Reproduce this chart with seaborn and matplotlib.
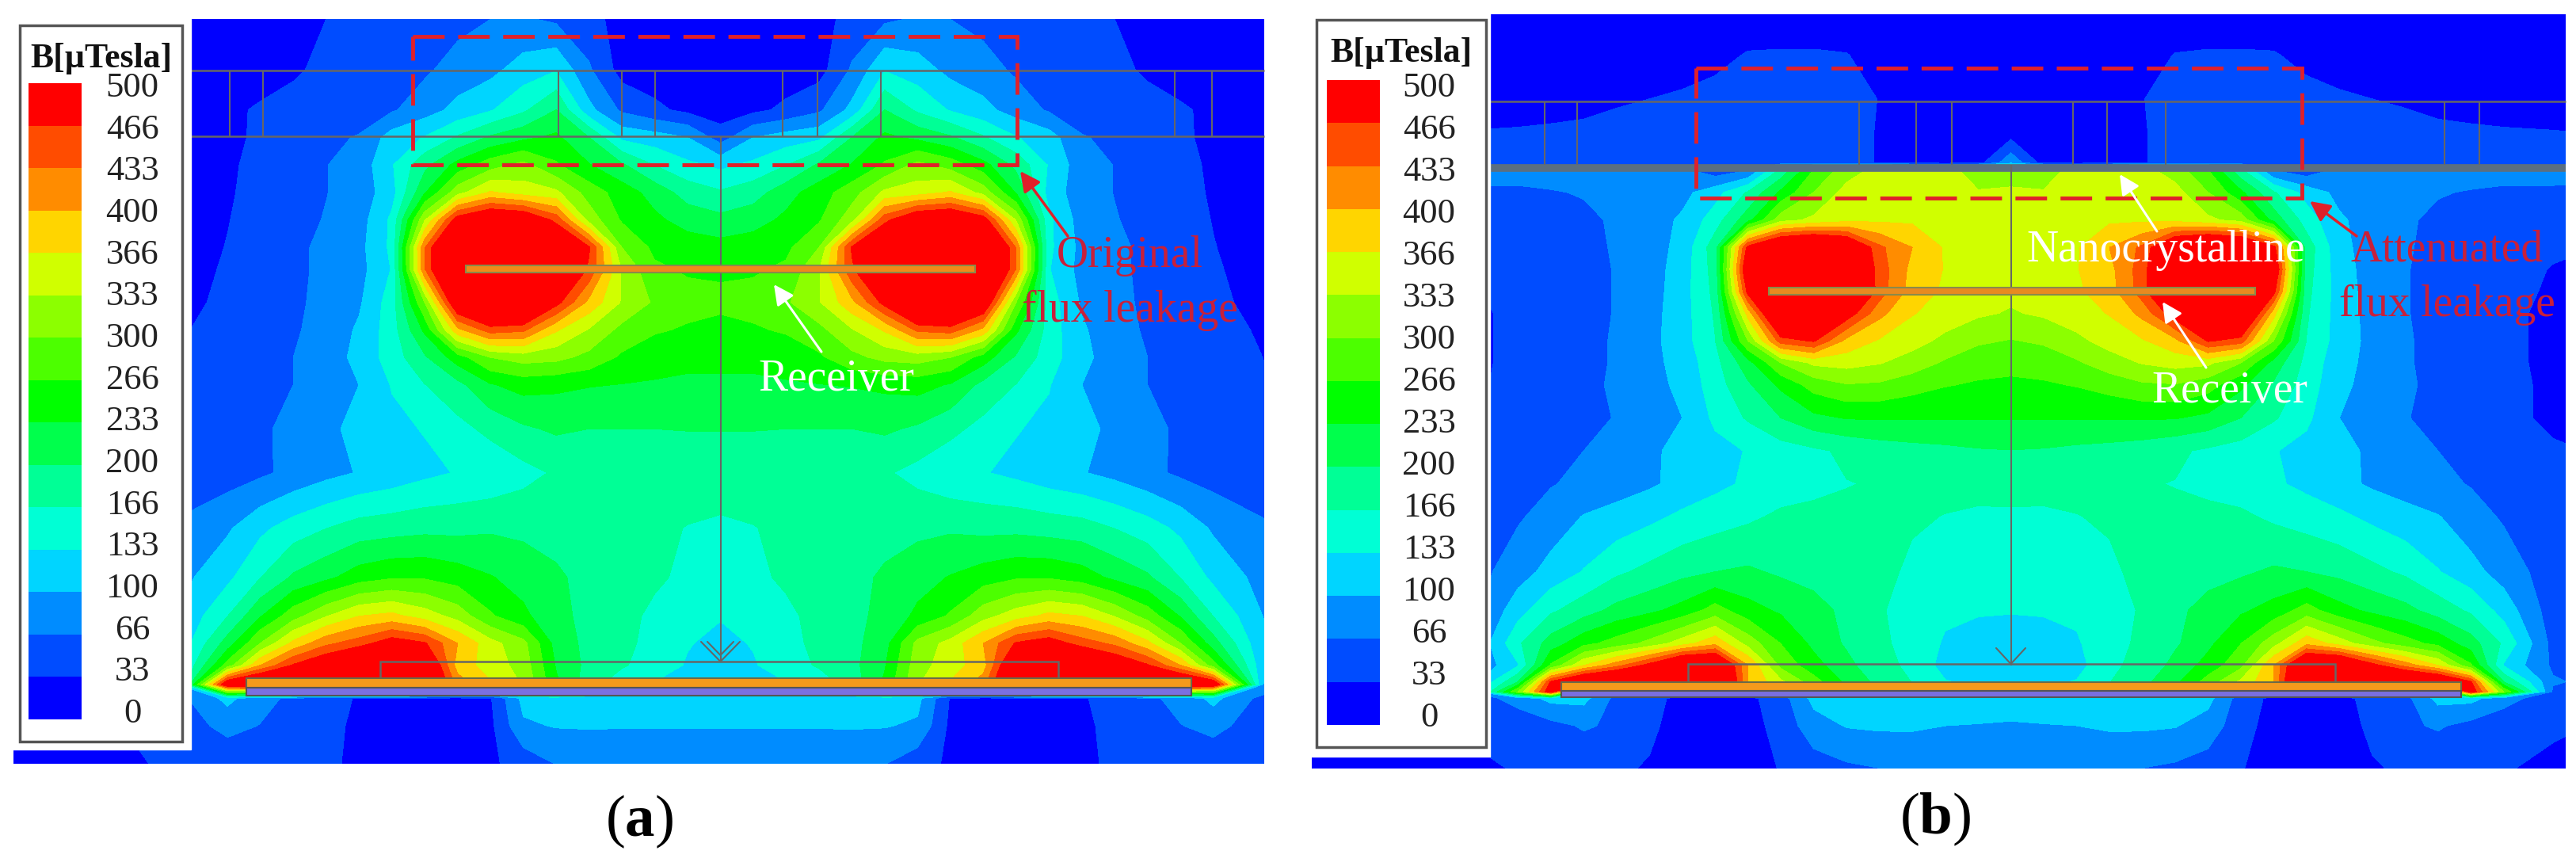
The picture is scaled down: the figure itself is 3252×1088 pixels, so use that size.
# Magnetic flux density maps, (a) original and (b) with nanocrystalline shield
import numpy as np
import matplotlib.pyplot as plt
from matplotlib.colors import ListedColormap, BoundaryNorm
from matplotlib.patches import Rectangle
import seaborn as sns

sns.set_theme(style="white")
plt.rcParams["font.family"] = ["Liberation Serif", "DejaVu Serif"]
plt.rcParams["mathtext.fontset"] = "custom"
plt.rcParams["mathtext.bf"] = "Liberation Serif:bold"

# legend
tick_labels = [500, 466, 433, 400, 366, 333, 300, 266, 233, 200, 166, 133, 100, 66, 33, 0]
band_colors = ["#0000ff", "#004cff", "#008cff", "#00d5ff", "#00ffd5", "#00ff96", "#00ff4c", "#00ff00",
               "#4cff00", "#8cff00", "#d0ff00", "#ffd500", "#ff8c00", "#ff4c00", "#ff0000"]
levels = [0, 33, 66, 100, 133, 166, 200, 233, 266, 300, 333, 366, 400, 433, 466, 5000]

# distance from the centre line (columns of both tables)
dist = [0, 40, 80, 120, 160, 200, 240, 280, 320, 360, 400, 440, 480, 520, 560, 600, 660, 760, 870]

# panel (a), flux density in uT
rows_a = [35, 126, 200, 250, 300, 350, 400, 450, 490, 550, 600, 650, 700, 780, 860, 960, 1050, 1120, 1170, 1210, 1245, 1270, 1320, 1388]
field_a = [
    [15, 15, 15, 20, 45, 60, 70, 66, 55, 48, 44, 40, 33, 22, 15, 12, 10, 10, 10],
    [10, 10, 15, 20, 70, 130, 115, 90, 80, 60, 50, 45, 38, 30, 22, 15, 10, 10, 10],
    [15, 25, 40, 60, 110, 200, 160, 130, 110, 85, 62, 52, 46, 40, 36, 28, 18, 10, 10],
    [50, 100, 115, 125, 200, 240, 225, 205, 170, 135, 115, 68, 60, 50, 38, 26, 15, 12, 12],
    [125, 140, 165, 205, 235, 270, 310, 285, 245, 190, 130, 80, 65, 52, 42, 28, 17, 12, 10],
    [170, 185, 220, 250, 285, 340, 350, 370, 320, 230, 120, 80, 65, 52, 42, 30, 18, 15, 12],
    [210, 220, 240, 262, 320, 455, 520, 530, 490, 330, 140, 85, 68, 55, 44, 32, 20, 18, 12],
    [245, 250, 258, 300, 470, 540, 580, 590, 600, 430, 140, 90, 72, 60, 45, 34, 20, 18, 10],
    [262, 262, 272, 330, 460, 540, 600, 600, 600, 430, 135, 88, 72, 60, 48, 36, 22, 18, 10],
    [272, 278, 295, 330, 390, 480, 580, 580, 520, 300, 150, 95, 75, 60, 48, 38, 26, 18, 10],
    [258, 262, 270, 290, 330, 370, 440, 450, 390, 240, 150, 105, 78, 62, 50, 42, 30, 18, 10],
    [240, 240, 245, 260, 290, 310, 315, 300, 250, 195, 148, 110, 82, 66, 52, 44, 33, 18, 10],
    [228, 228, 230, 232, 235, 240, 245, 230, 190, 165, 135, 100, 85, 66, 55, 45, 35, 18, 10],
    [201, 201, 200, 200, 200, 205, 195, 175, 155, 135, 125, 110, 92, 76, 60, 48, 38, 18, 10],
    [185, 182, 180, 178, 175, 170, 155, 140, 135, 125, 112, 102, 90, 75, 60, 50, 40, 18, 10],
    [160, 165, 172, 178, 182, 188, 192, 195, 190, 190, 185, 180, 165, 148, 125, 95, 72, 20, 10],
    [150, 158, 172, 180, 190, 205, 220, 235, 250, 262, 262, 250, 225, 205, 165, 125, 88, 40, 15],
    [135, 145, 158, 178, 190, 210, 240, 270, 320, 350, 375, 365, 330, 285, 230, 165, 100, 55, 25],
    [125, 135, 155, 175, 190, 220, 310, 345, 400, 470, 490, 450, 425, 375, 300, 215, 105, 55, 25],
    [112, 130, 150, 170, 190, 230, 320, 350, 385, 540, 580, 560, 510, 470, 400, 280, 110, 55, 25],
    [112, 118, 130, 145, 180, 240, 330, 370, 420, 570, 600, 620, 620, 600, 560, 520, 100, 60, 30],
    [125, 125, 125, 125, 125, 125, 110, 30, 25, 25, 25, 30, 45, 60, 75, 110, 55, 45, 20],
    [102, 102, 102, 102, 103, 102, 95, 25, 20, 20, 20, 28, 40, 50, 65, 75, 50, 25, 12],
    [75, 75, 75, 75, 72, 68, 45, 28, 20, 15, 15, 25, 40, 44, 46, 46, 45, 12, 10],
]

# panel (b)
rows_b = [26, 100, 180, 240, 296, 312, 350, 400, 450, 490, 530, 570, 620, 660, 700, 760, 820, 880, 940, 1040, 1110, 1170, 1210, 1240, 1258, 1270, 1320, 1397]
field_b = [
    [15, 15, 15, 15, 15, 15, 15, 15, 15, 15, 15, 15, 15, 15, 15, 15, 15, 15, 15],
    [15, 15, 15, 18, 22, 34, 36, 36, 35, 25, 15, 12, 12, 12, 12, 12, 12, 12, 12],
    [12, 12, 14, 20, 32, 45, 48, 48, 48, 42, 38, 33, 28, 22, 18, 15, 15, 12, 12],
    [15, 15, 16, 20, 30, 48, 48, 48, 48, 48, 48, 48, 46, 40, 38, 36, 34, 30, 30],
    [90, 20, 15, 18, 30, 48, 50, 50, 50, 50, 50, 50, 50, 50, 50, 50, 50, 48, 48],
    [300, 320, 345, 345, 345, 320, 270, 180, 70, 50, 78, 78, 78, 78, 78, 78, 78, 78, 78],
    [345, 335, 345, 350, 350, 345, 300, 240, 170, 120, 90, 78, 70, 68, 64, 60, 60, 50, 50],
    [345, 350, 360, 360, 360, 355, 340, 320, 220, 150, 105, 85, 70, 60, 50, 42, 35, 35, 35],
    [345, 350, 362, 400, 440, 540, 580, 560, 480, 185, 110, 85, 70, 55, 46, 40, 36, 30, 30],
    [345, 352, 364, 390, 450, 560, 600, 600, 520, 180, 115, 85, 68, 55, 46, 40, 32, 32, 30],
    [340, 345, 360, 385, 450, 570, 620, 620, 480, 175, 118, 85, 68, 55, 46, 40, 30, 30, 30],
    [330, 338, 350, 368, 410, 490, 570, 570, 380, 170, 118, 88, 68, 55, 46, 40, 26, 30, 30],
    [298, 305, 325, 345, 362, 390, 470, 450, 300, 165, 118, 90, 70, 55, 46, 40, 26, 30, 30],
    [275, 280, 295, 318, 335, 345, 340, 300, 220, 155, 112, 90, 70, 55, 46, 40, 26, 30, 30],
    [260, 262, 268, 280, 295, 298, 280, 240, 195, 150, 108, 88, 72, 56, 46, 40, 28, 28, 25],
    [235, 235, 235, 235, 236, 235, 225, 200, 170, 140, 100, 85, 68, 55, 46, 40, 28, 28, 25],
    [199, 197, 192, 188, 182, 172, 160, 150, 135, 122, 108, 95, 78, 66, 55, 48, 36, 28, 22],
    [180, 178, 175, 172, 168, 165, 160, 150, 138, 125, 110, 95, 85, 74, 64, 55, 40, 25, 18],
    [160, 160, 165, 170, 172, 172, 172, 172, 160, 150, 140, 125, 112, 102, 80, 62, 45, 25, 15],
    [140, 140, 142, 160, 175, 180, 185, 195, 205, 200, 190, 175, 160, 135, 112, 85, 48, 25, 12],
    [135, 135, 138, 150, 170, 190, 215, 228, 245, 280, 245, 225, 210, 185, 160, 120, 48, 25, 15],
    [118, 125, 130, 150, 175, 195, 225, 265, 320, 390, 350, 310, 280, 255, 215, 160, 55, 30, 15],
    [112, 115, 120, 160, 175, 210, 245, 290, 400, 560, 560, 480, 420, 365, 270, 130, 60, 35, 20],
    [120, 125, 135, 165, 190, 225, 280, 340, 400, 600, 600, 600, 580, 550, 470, 200, 70, 45, 20],
    [118, 120, 125, 130, 130, 130, 120, 100, 80, 70, 70, 80, 100, 150, 500, 300, 60, 40, 15],
    [125, 125, 125, 125, 125, 125, 110, 50, 25, 20, 22, 45, 55, 110, 110, 80, 45, 40, 15],
    [95, 98, 100, 105, 105, 102, 85, 45, 20, 15, 18, 40, 60, 70, 55, 42, 35, 30, 12],
    [72, 72, 70, 68, 66, 60, 50, 35, 18, 12, 14, 30, 38, 38, 36, 34, 30, 15, 12],
]

# the crops used for reading the map are scaled differently in x and y
SX = 0.9643
SY = 1.441
GREY = "#666666"
field_cmap = ListedColormap(band_colors)
field_norm = BoundaryNorm(levels, field_cmap.N)

fig = plt.figure(figsize=(32.52, 10.88), dpi=100)
ax = fig.add_axes([0, 0, 1, 1])
ax.set_xlim(0, 3252)
ax.set_ylim(1088, 0)
ax.axis("off")


def draw_panel(x0, centre, rows, field, box, cover, frame, swatch, label_x, label_y):
    # box = field rectangle, cover = white corner under the legend
    d = np.array(dist)
    half = np.array(field, dtype=float)
    values = np.hstack([half[:, :0:-1], half])
    xs = np.concatenate([centre - d[:0:-1], centre + d]) / SX + x0
    ys = np.array(rows) / SY
    cs = ax.contourf(xs, ys, values, levels=levels, cmap=field_cmap, norm=field_norm, antialiased=False)
    cs.set_clip_path(Rectangle((box[0], box[1]), box[2] - box[0], box[3] - box[1], transform=ax.transData))
    ax.add_patch(Rectangle((x0, 0), cover[0] - x0, cover[1], color="white", zorder=3))
    ax.add_patch(Rectangle((frame[0], frame[1]), frame[2] - frame[0], frame[3] - frame[1],
                           facecolor="white", edgecolor="#555555", lw=2.5, zorder=4))
    ax.text((frame[0] + frame[2]) / 2, frame[1] + 42, "B[µTesla]", fontsize=31.5, fontweight="bold",
            ha="center", va="center", color="#111111", zorder=5)
    for label, y in zip(tick_labels, np.linspace(label_y[0], label_y[1], len(tick_labels))):
        ax.text(label_x, y, str(label), fontsize=32, ha="center", va="center", color="#222222", zorder=5)
    # colour swatches
    lax = fig.add_axes([swatch[0] / 3252, 1 - swatch[3] / 1088, (swatch[2] - swatch[0]) / 3252,
                        (swatch[3] - swatch[1]) / 1088], zorder=6)
    swatch_values = np.arange(len(band_colors))[::-1].reshape(-1, 1)
    sns.heatmap(swatch_values, ax=lax, cmap=field_cmap, cbar=False, xticklabels=False, yticklabels=False)


def hline(x0, x1, y, lw=1.8, color=GREY):
    ax.plot([x0, x1], [y, y], color=color, lw=lw, zorder=2, solid_capstyle="butt")


def vline(x, y0, y1, lw=1.5, color=GREY):
    ax.plot([x, x], [y0, y1], color=color, lw=lw, zorder=2, solid_capstyle="butt")


def coil(x0, y_top, y_mid, y_bot, x_left, x_right):
    ax.add_patch(Rectangle((x_left + x0, y_top), x_right - x_left, y_mid - y_top, facecolor="#f59a1c", edgecolor="#6a6a4a", lw=1.5, zorder=2))
    ax.add_patch(Rectangle((x_left + x0, y_mid), x_right - x_left, y_bot - y_mid, facecolor="#7a6fe0", edgecolor="#555555", lw=1.5, zorder=2))


def arrow(start, end, color, width=2.2):
    ax.annotate("", xy=end, xytext=start, zorder=7,
                arrowprops=dict(arrowstyle="-|>", color=color, lw=width, mutation_scale=38, shrinkA=0, shrinkB=0))


draw_panel(0, 877, rows_a, field_a, (17, 24, 1596, 964), (241, 946), (25, 32, 230, 936),
           (36, 105, 103, 908), 167, (111, 901))
draw_panel(1626, 880, rows_b, field_b, (1656, 18, 3239, 970), (1881, 955), (1662, 25, 1876, 943),
           (1675, 101, 1742, 915), 1804, (111, 906))

# panel (a) geometry
hline(241, 1596, 89)
hline(241, 1596, 172)
for x in [290, 332, 705, 785, 827, 988, 1032, 1112, 1483, 1530]:
    vline(x, 89, 172)
vline(909.5, 172, 835)
ax.add_patch(Rectangle((588, 335), 643, 9, facecolor="#f08a1a", edgecolor="#8a8a4a", lw=1.5, zorder=2))
ax.add_patch(Rectangle((480, 835), 856, 21, fill=False, edgecolor=GREY, lw=1.8, zorder=2))
coil(0, 856, 868, 878, 311, 1504)
ax.plot([885, 909.5, 934], [810, 835, 810], color=GREY, lw=1.5, zorder=2)
ax.plot([893, 909.5, 926], [810, 827, 810], color=GREY, lw=1.5, zorder=2)
ax.add_patch(Rectangle((521, 46), 763, 162, fill=False, edgecolor="#e0202a", lw=3.5, linestyle=(0, (8.2, 3.5)), zorder=6))
arrow((1348, 298), (1288, 216), "#e0202a", 2.5)
ax.text(1426, 323, "Original", fontsize=40, color="#c8203a", ha="center", va="center", zorder=7)
ax.text(1426, 392, "flux leakage", fontsize=40, color="#c8203a", ha="center", va="center", zorder=7)
arrow((1037, 444), (977, 359), "white")
ax.text(1056, 479, "Receiver", fontsize=40, color="white", ha="center", va="center", zorder=7)
ax.text(807, 1037, r"($\mathbf{a}$)", fontsize=54, color="black", ha="center", va="center")

# panel (b) geometry
hline(1881, 3239, 128)
ax.plot([1881, 3239], [212, 212], color="#5b6f80", lw=7, zorder=2, solid_capstyle="butt")
for x in [1950, 1991, 2347, 2419, 2464, 2617, 2660, 2734, 3086, 3130]:
    vline(x, 128, 208)
vline(2538.5, 208, 840)
ax.add_patch(Rectangle((2233, 363), 614, 9, facecolor="#e88a20", edgecolor="#8a8a4a", lw=1.5, zorder=2))
ax.add_patch(Rectangle((2131, 838), 817, 23, fill=False, edgecolor=GREY, lw=1.8, zorder=2))
coil(1626, 861, 872, 880, 345, 1481)
ax.plot([2520, 2538.5, 2557], [818, 838, 818], color=GREY, lw=1.5, zorder=2)
ax.add_patch(Rectangle((2141, 86), 765, 164, fill=False, edgecolor="#e0202a", lw=3.5, linestyle=(0, (8.2, 3.5)), zorder=6))
arrow((2975, 298), (2916, 254), "#e0202a", 2.5)
ax.text(3089, 316, "Attenuated", fontsize=40, color="#c8203a", ha="center", va="center", zorder=7)
ax.text(3089, 385, "flux leakage", fontsize=40, color="#c8203a", ha="center", va="center", zorder=7)
arrow((2723, 292), (2676, 220), "white")
ax.text(2734, 316, "Nanocrystalline", fontsize=40, color="white", ha="center", va="center", zorder=7)
arrow((2785, 464), (2730, 381), "white")
ax.text(2815, 494, "Receiver", fontsize=40, color="white", ha="center", va="center", zorder=7)
ax.text(2443, 1034, r"($\mathbf{b}$)", fontsize=54, color="black", ha="center", va="center")

fig.savefig("out.png", dpi=100)
